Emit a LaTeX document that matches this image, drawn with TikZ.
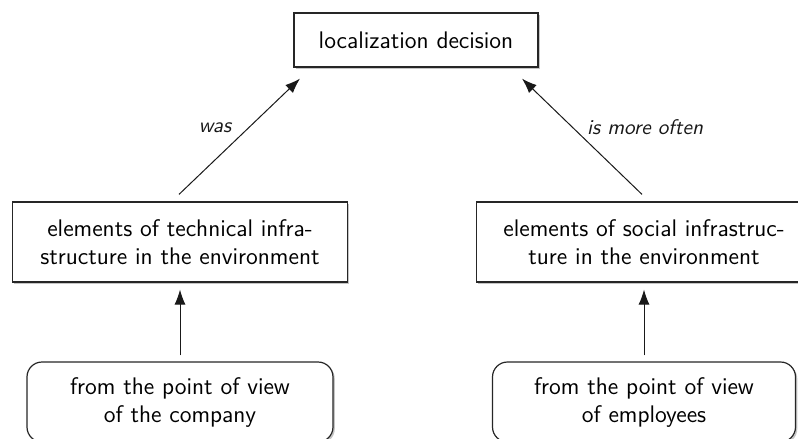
\documentclass[tikz,border=0pt]{standalone}
\usetikzlibrary{calc,shadows,arrows.meta}
\begin{document}
\begin{tikzpicture}[x=0.5pt,y=-0.5pt,
  font=\sffamily,
  boxbase/.style={draw=black!85, line width=0.6pt, fill=white, align=center,
    font=\sffamily\large, inner sep=2pt,
    drop shadow={shadow xshift=0.9pt, shadow yshift=-0.9pt, fill=black!45, opacity=0.5}},
  sqbox/.style={boxbase},
  rdbox/.style={boxbase, rounded corners=7.5pt},
  conn/.style={draw=black!90, line width=0.5pt, -{Latex[length=7.5pt,width=5.5pt]}},
  lbl/.style={font=\sffamily\itshape\fontsize{10.6}{12.5}\selectfont, text=black!90}]
\useasboundingbox (0,0) rectangle (798,439);
\node[sqbox, minimum width=122pt, minimum height=27pt] (top) at (416,40) {localization decision};
\node[sqbox, minimum width=167.5pt, minimum height=40pt] (m1) at (180,242) {elements of technical infra-\\structure in the environment};
\node[sqbox, minimum width=167.5pt, minimum height=40pt] (m2) at (644,242) {elements of social infrastruc-\\ture in the environment};
\node[rdbox, minimum width=153pt, minimum height=40pt] (b1) at (180,402) {from the point of view\\of the company};
\node[rdbox, minimum width=151.5pt, minimum height=40pt] (b2) at (644,402) {from the point of view\\of employees};
\coordinate (s1) at ($(m1.north)+(-1,-7)$);
\coordinate (e1) at ($(top.south)+(-116,11)$);
\coordinate (s2) at ($(m2.north)+(-2,-7)$);
\coordinate (e2) at ($(top.south)+(106,11)$);
\draw[conn] (s1) -- (e1);
\draw[conn] (s2) -- (e2);
\draw[conn] ($(b1.north)+(0,-6)$) -- ($(m1.south)+(0,7)$);
\draw[conn] ($(b2.north)+(0,-6)$) -- ($(m2.south)+(0,7)$);
\node[lbl] (l1) at (215,128) {was};
\node[lbl] (l2) at (645,127) {is more often};
\end{tikzpicture}
\end{document}
